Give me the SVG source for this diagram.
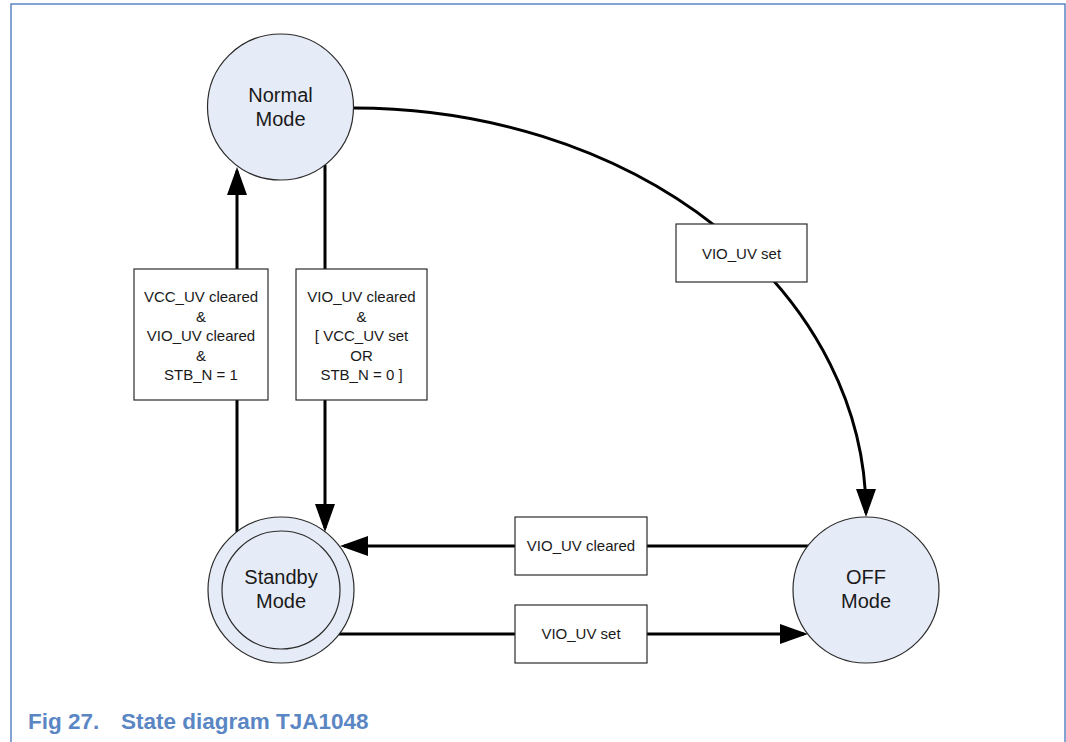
<svg xmlns="http://www.w3.org/2000/svg" width="1066" height="742" viewBox="0 0 1066 742">
<style>
.state{fill:#e6ecf7;stroke:#2b2b2b;stroke-width:1.2}
.lbl{fill:#ffffff;stroke:#2b2b2b;stroke-width:1.2}
.st{font-family:"Liberation Sans",Arial,sans-serif;font-size:20px;fill:#1a1a1a;text-anchor:middle}
.lt{font-family:"Liberation Sans",Arial,sans-serif;font-size:15px;fill:#1a1a1a;text-anchor:middle}
.conn{fill:none;stroke:#000;stroke-width:3;marker-end:url(#arr)}
.frame{fill:none;stroke:#5b86c4;stroke-width:1.5}
.cap{font-family:"Liberation Sans",Arial,sans-serif;font-size:22.5px;font-weight:bold;fill:#5b86c4}
</style>
<defs>
<marker id="arr" markerUnits="userSpaceOnUse" markerWidth="28" markerHeight="20" refX="24" refY="10" orient="auto" viewBox="0 0 28 20">
<path d="M0,0 L28,10 L0,20 z" fill="#000"/>
</marker>
</defs>
<rect width="1066" height="742" fill="#ffffff"/>
<path class="frame" d="M11,742 L11,4 L1065,4 L1065,742"/>
<g id="connectors">
<path class="conn" d="M237,532 L237,171"/>
<path class="conn" d="M325,165 L325,528"/>
<path class="conn" d="M808,546 L344,546"/>
<path class="conn" d="M339,634 L804,634"/>
<path class="conn" d="M354,108 A512,405 0 0 1 866,513"/>
</g>
<g id="label-normal-standby-up">
<rect class="lbl" x="134" y="269" width="134" height="131"/>
<text class="lt" x="201" y="302">VCC_UV cleared</text>
<text class="lt" x="201" y="322">&amp;</text>
<text class="lt" x="201" y="341">VIO_UV cleared</text>
<text class="lt" x="201" y="361">&amp;</text>
<text class="lt" x="201" y="380">STB_N = 1</text>
</g>
<g id="label-normal-standby-down">
<rect class="lbl" x="296" y="269" width="131" height="131"/>
<text class="lt" x="361.5" y="302">VIO_UV cleared</text>
<text class="lt" x="361.5" y="322">&amp;</text>
<text class="lt" x="361.5" y="341">[ VCC_UV set</text>
<text class="lt" x="361.5" y="361">OR</text>
<text class="lt" x="361.5" y="380">STB_N = 0 ]</text>
</g>
<g id="label-normal-off">
<rect class="lbl" x="676" y="224" width="131" height="58"/>
<text class="lt" x="741.5" y="259">VIO_UV set</text>
</g>
<g id="label-off-standby">
<rect class="lbl" x="515" y="517" width="132" height="58"/>
<text class="lt" x="581" y="551">VIO_UV cleared</text>
</g>
<g id="label-standby-off">
<rect class="lbl" x="515" y="605" width="132" height="58"/>
<text class="lt" x="581" y="639">VIO_UV set</text>
</g>
<g id="normal">
<circle class="state" cx="280.5" cy="107" r="73"/>
<text class="st" x="280.5" y="102">Normal</text>
<text class="st" x="280.5" y="126">Mode</text>
</g>
<g id="standby">
<circle class="state" cx="281" cy="590" r="73"/>
<circle class="state" cx="281" cy="590" r="59"/>
<text class="st" x="281" y="584">Standby</text>
<text class="st" x="281" y="608">Mode</text>
</g>
<g id="off">
<circle class="state" cx="866" cy="590" r="73"/>
<text class="st" x="866" y="584">OFF</text>
<text class="st" x="866" y="608">Mode</text>
</g>
<text class="cap" y="729"><tspan x="28">Fig 27.</tspan><tspan x="121">State diagram TJA1048</tspan></text>
</svg>
